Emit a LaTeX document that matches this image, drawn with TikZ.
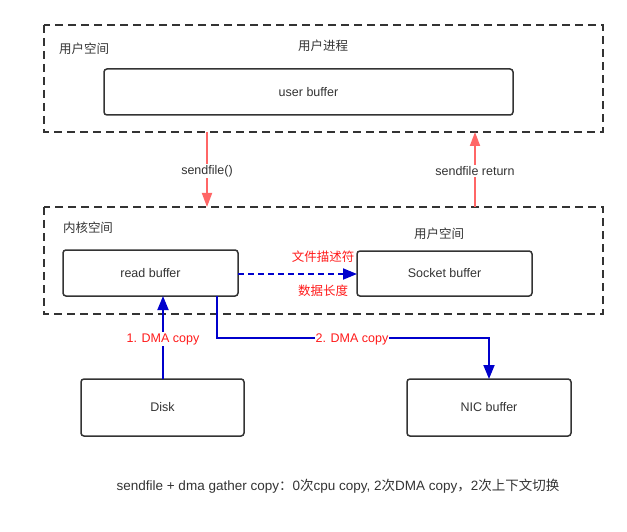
\documentclass[tikz,border=0pt]{standalone}
\usepackage{fontspec}
\setmainfont{Liberation Sans}
\newfontfamily\cjk{Noto Sans CJK SC}
\usetikzlibrary{arrows.meta}
\definecolor{txtgray}{HTML}{333333}
\definecolor{salmon}{HTML}{FF6666}
\definecolor{dblue}{HTML}{0000CC}
\definecolor{lred}{HTML}{FF1A1A}
\begin{document}
\begin{tikzpicture}[x=1pt,y=-1pt,
  every node/.style={font=\fontsize{12.5}{14}\selectfont, text=txtgray},
  region/.style={draw=txtgray, line width=1.8pt, dash pattern=on 8pt off 5pt},
  bufbox/.style={draw=txtgray, line width=1.5pt, rounded corners=3pt},
  callarrow/.style={draw=salmon, line width=1.8pt, -{Triangle[width=10pt,length=14pt]}},
  dmaarrow/.style={draw=dblue, line width=1.8pt, -{Triangle[width=11pt,length=14pt]}},
  redlbl/.style={text=lred, fill=white, inner sep=1pt},
  graylbl/.style={fill=white, inner sep=1pt}]
\useasboundingbox (0,0) rectangle (627,532);
% regions
\draw[region] (44,25) rectangle (603,132);
\draw[region] (44,207) rectangle (603,314);
\coordinate (uTop1) at (207,132);
\coordinate (kTop1) at (207,207);
\coordinate (uTop2) at (475,132);
\coordinate (kTop2) at (475,207);
% labels in regions
\node (us) at (84,49) {\cjk 用户空间};
\node (up) at (323,46) {\cjk 用户进程};
\node (ks) at (88,228) {\cjk 内核空间};
\node (us2) at (439,234) {\cjk 用户空间};
% boxes
\draw[bufbox] (104,69) rectangle (513,115);
\node (ub) at (308.5,92) {user buffer};
\draw[bufbox] (63,250) rectangle (238,296);
\node (rb) at (150.5,273) {read buffer};
\draw[bufbox] (357,251) rectangle (532,296);
\node (sb) at (444.5,273) {Socket buffer};
\draw[bufbox] (81,379) rectangle (244,436);
\node (disk) at (162.5,407.5) {Disk};
\draw[bufbox] (407,379) rectangle (571,436);
\node (nic) at (489,407.5) {NIC buffer};
% call arrows
\draw[callarrow] (uTop1) -- (kTop1);
\node[graylbl] (sf) at (207,171) {sendfile()};
\draw[callarrow] (kTop2) -- (uTop2);
\node[graylbl] (sfr) at (475,171) {sendfile return};
% dashed arrow
\coordinate (rbR) at (238,274);
\coordinate (sbL) at (357,274);
\draw[dmaarrow, dash pattern=on 6pt off 4pt] (rbR) -- (sbL);
\node[text=lred] (fd) at (323,257) {\cjk 文件描述符};
\node[text=lred] (dl) at (323,291) {\cjk 数据长度};
% DMA arrows
\coordinate (diskT) at (163,379);
\coordinate (rbB) at (163,296);
\draw[dmaarrow] (diskT) -- (rbB);
\node[redlbl] (d1) at (163,339) {1. DMA copy};
\coordinate (rbB2) at (217,296);
\coordinate (nicT) at (489,379);
\draw[dmaarrow] (rbB2) |- (489,338) -- (nicT);
\node[redlbl] (d2) at (352,339) {2. DMA copy};
% caption
\node[font=\fontsize{13.5}{15}\selectfont] (cap) at (338,486) {sendfile + dma gather copy{\cjk ：}0{\cjk 次}cpu copy, 2{\cjk 次}DMA copy{\cjk ，}2{\cjk 次上下文切换}};
\end{tikzpicture}
\end{document}
